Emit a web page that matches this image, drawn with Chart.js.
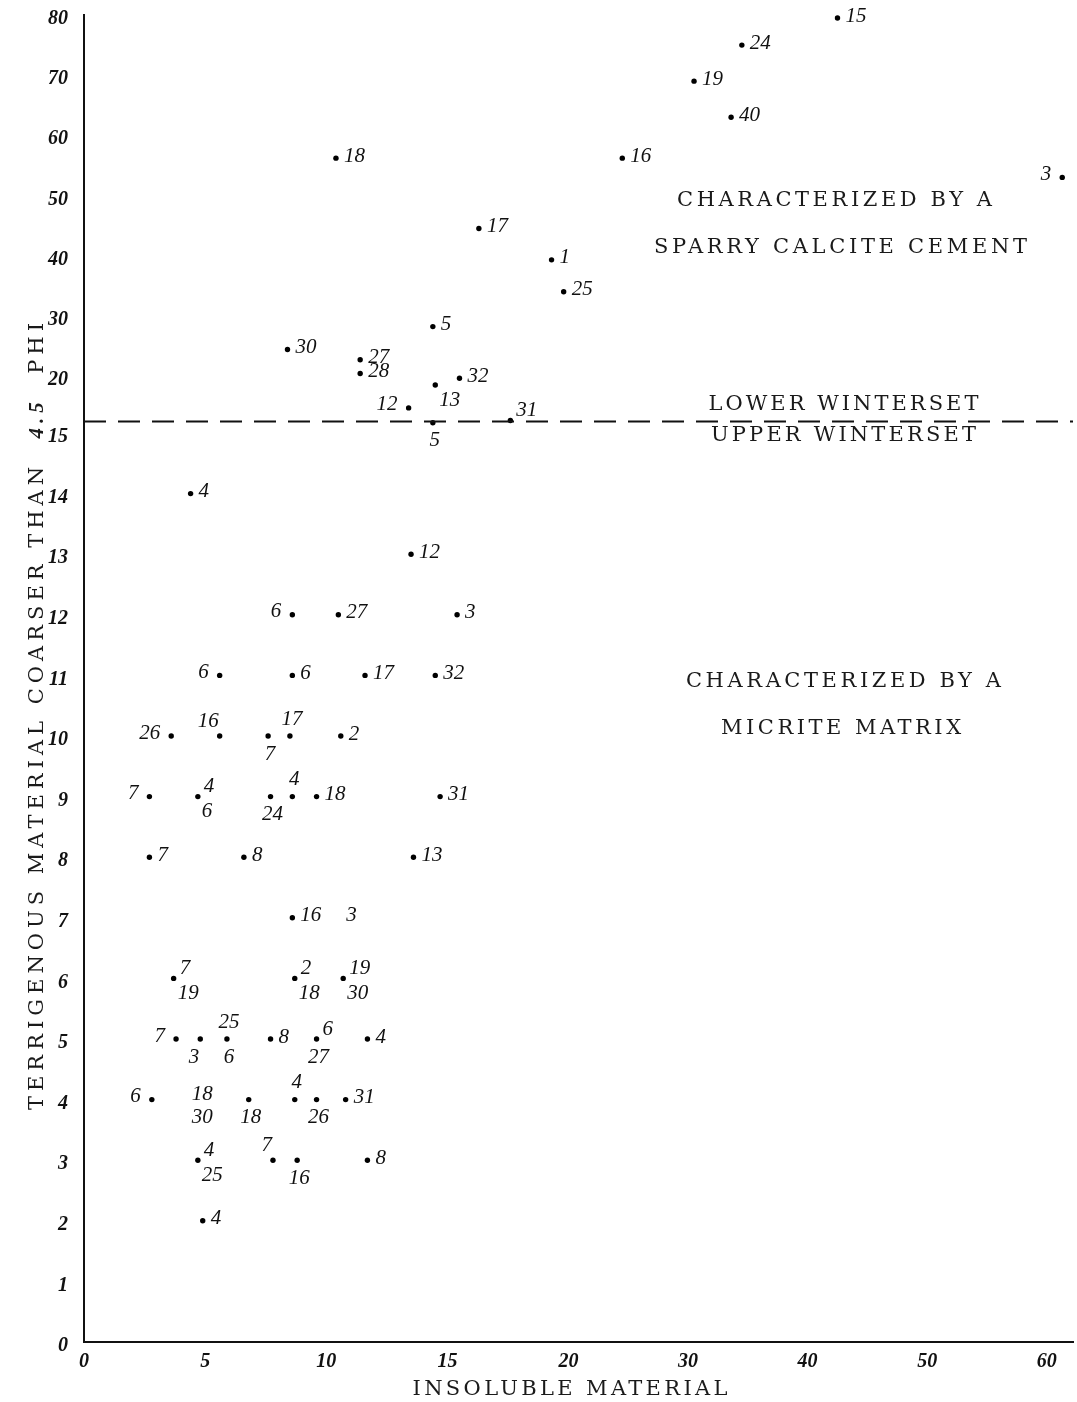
<!DOCTYPE html>
<html lang="en">
<head>
<meta charset="UTF-8">
<title>Terrigenous material vs insoluble material</title>
<script src="https://cdn.jsdelivr.net/npm/chart.js@4"></script>
<style>
  body { margin: 0; background: #fff; }
  canvas { display: block; }
</style>
</head>
<body>
<canvas id="plot" width="1077" height="1402"></canvas>
<script>
// Lower Winterset samples (above the dashed boundary)
const upperX = [42.5, 34.5, 30.5, 33.6, 24.5, 61.3, 10.4, 16.3, 19.3, 19.8, 14.4, 8.4, 11.4, 11.4, 15.5, 14.5, 13.4, 14.4, 17.6];
const upperY = [79.5, 75, 69, 63, 56.2, 53, 56.2, 44.5, 39.3, 34, 28.2, 24.4, 22.7, 20.4, 19.8, 19.2, 17.2, 15.9, 16.1];
const upperLabels = ['15', '24', '19', '40', '16', '3', '18', '17', '1', '25', '5', '30', '27', '28', '32', '13', '12', '5', '31'];

// Upper Winterset samples (below the boundary); "a/b" = two samples on one dot
const lowerX = [4.4, 8.6, 10.5, 15.4, 13.5, 5.6, 8.6, 11.6, 14.5, 3.6, 5.6, 7.6, 8.5, 10.6, 2.7, 4.7, 7.7, 8.6, 9.6, 14.7,
                2.7, 6.6, 13.6, 8.6, 3.7, 8.7, 10.7, 3.8, 4.8, 5.9, 7.7, 9.6, 11.7, 2.8, 6.8, 8.7, 9.6, 10.8, 4.7, 7.8,
                8.8, 11.7, 4.9];
const lowerY = [14, 12, 12, 12, 13, 11, 11, 11, 11, 10, 10, 10, 10, 10, 9, 9, 9, 9, 9, 9,
                8, 8, 8, 7, 6, 6, 6, 5, 5, 5, 5, 5, 5, 4, 4, 4, 4, 4, 3, 3,
                3, 3, 2];
const lowerLabels = ['4', '6', '27', '3', '12', '6', '6', '17', '32', '26', '16', '7', '17', '2', '7', '4/6', '24', '4', '18', '31',
                     '7', '8', '13', '16', '7/19', '2/18', '19/30', '7', '3', '25/6', '8', '6/27', '4', '6', '18', '4', '26', '31', '4/25', '7',
                     '16', '8', '4'];

// sample numbers printed without a visible dot
const looseX = [10.5, 4.8];
const looseY = [7, 3.9];
const looseLabels = ['3', '18/30'];

const xTicks = [0, 5, 10, 15, 20, 30, 40, 50, 60];
const yTicks = [0, 1, 2, 3, 4, 5, 6, 7, 8, 9, 10, 11, 12, 13, 14, 15, 20, 30, 40, 50, 60, 70, 80];
const boundaryY = 16;

// where each number sits around its dot (r, l, ur, dr, u, d, ul, dl)
const upperPos = ['r', 'r', 'r', 'r', 'r', 'l', 'r', 'r', 'r', 'r', 'r', 'r', 'r', 'r', 'r', 'dr', 'l', 'd', 'ur'];
const lowerPos = ['r', 'l', 'r', 'r', 'r', 'l', 'r', 'r', 'r', 'l', 'ul', 'd', 'u', 'r', 'l', 'ur/dr', 'd', 'u', 'r', 'r',
                  'r', 'r', 'r', 'r', 'ur/dr', 'ur/dr', 'ur/dr', 'l', 'dl', 'u/d', 'r', 'ur/d', 'r', 'l', 'd', 'u', 'd', 'r', 'ur/dr', 'ul',
                  'd', 'r', 'r'];
const loosePos = ['r', 'u2/d2'];

// broken axes: [value, fraction of axis length]
const BREAKS = {
  x: [[0, 0], [20, 0.4899], [62.2, 1]],
  y: [[0, 0], [15, 0.685], [20, 0.728], [80, 1]]
};

class BrokenScale extends Chart.LinearScale {
  getPixelForValue(value) {
    const b = BREAKS[this.axis];
    let i = 1;
    while (i < b.length - 1 && value > b[i][0]) i++;
    const [v0, f0] = b[i - 1], [v1, f1] = b[i];
    return this.getPixelForDecimal(f0 + (value - v0) / (v1 - v0) * (f1 - f0));
  }
  getValueForPixel(pixel) {
    const b = BREAKS[this.axis];
    const d = this.getDecimalForPixel(pixel);
    let i = 1;
    while (i < b.length - 1 && d > b[i][1]) i++;
    const [v0, f0] = b[i - 1], [v1, f1] = b[i];
    return v0 + (d - f0) / (f1 - f0) * (v1 - v0);
  }
}
BrokenScale.id = 'broken';
BrokenScale.defaults = Chart.LinearScale.defaults;
Chart.register(BrokenScale);

const OFFSETS = {
  r:  ['left', 8, -2],   l:  ['right', -11, -3],
  ur: ['left', 6, -10],  dr: ['left', 4, 15],
  u:  ['center', 2, -17], d: ['center', 2, 18],
  ul: ['right', -1, -15], dl: ['right', -1, 18],
  u2: ['center', 2, -11], d2: ['center', 2, 12]
};

const pointLabels = {
  id: 'pointLabels',
  afterDatasetsDraw(chart) {
    const ctx = chart.ctx;
    ctx.save();
    ctx.font = 'italic 21px "Liberation Serif"';
    ctx.fillStyle = '#111';
    ctx.textBaseline = 'middle';
    chart.data.datasets.forEach((ds, di) => {
      if (!ds.sampleLabels) return;
      chart.getDatasetMeta(di).data.forEach((pt, i) => {
        const texts = ds.sampleLabels[i].split('/');
        const pos = ds.labelPos[i].split('/');
        texts.forEach((t, k) => {
          const [align, dx, dy] = OFFSETS[pos[k]];
          ctx.textAlign = align;
          ctx.fillText(t, pt.x + dx, pt.y + dy);
        });
      });
    });
    ctx.restore();
  }
};

// region notes, placed in data coordinates
const notes = [
  { text: 'CHARACTERIZED BY A', x: 42.25, y: 49.1, w: 315 },
  { text: 'SPARRY CALCITE CEMENT', x: 42.75, y: 41.3, w: 373 },
  { text: 'LOWER WINTERSET', x: 43, y: 17.5, w: 270 },
  { text: 'UPPER WINTERSET', x: 43, y: 14.95, w: 265 },
  { text: 'CHARACTERIZED BY A', x: 43, y: 10.9, w: 315 },
  { text: 'MICRITE MATRIX', x: 42.8, y: 10.13, w: 240 }
];

function spaced(ctx, text, cx, cy, width) {
  ctx.letterSpacing = '0px';
  const nat = ctx.measureText(text).width;
  const sp = Math.max(0, (width - nat) / (text.length - 1));
  ctx.letterSpacing = sp + 'px';
  ctx.textAlign = 'left';
  ctx.fillText(text, cx - width / 2, cy);
  ctx.letterSpacing = '0px';
}

const annotations = {
  id: 'annotations',
  afterDraw(chart) {
    const ctx = chart.ctx;
    const xs = chart.scales.x, ys = chart.scales.y;
    ctx.save();
    ctx.fillStyle = '#1a1a1a';
    ctx.textBaseline = 'middle';
    ctx.font = '21px "DejaVu Serif"';
    notes.forEach(n => spaced(ctx, n.text, xs.getPixelForValue(n.x), ys.getPixelForValue(n.y), n.w));

    // x title
    spaced(ctx, 'INSOLUBLE MATERIAL', 570, 1390, 315);

    // y title, "4.5" in italics
    const parts = [
      ['TERRIGENOUS MATERIAL COARSER THAN  ', '21px "DejaVu Serif"'],
      ['4.5', 'italic bold 21px "Liberation Serif"'],
      ['  PHI', '21px "DejaVu Serif"']
    ];
    ctx.letterSpacing = '0px';
    let nat = 0, n = 0;
    parts.forEach(([t, f]) => { ctx.font = f; nat += ctx.measureText(t).width; n += t.length; });
    const target = 792;
    const sp = Math.max(0, (target - nat) / n);
    ctx.translate(38, 714);
    ctx.rotate(-Math.PI / 2);
    let x = -target / 2;
    ctx.textAlign = 'left';
    parts.forEach(([t, f]) => {
      ctx.font = f;
      ctx.letterSpacing = sp + 'px';
      ctx.fillText(t, x, 0);
      x += ctx.measureText(t).width;
    });
    ctx.restore();
  }
};

const toPoints = (xs, ys) => xs.map((x, i) => ({ x, y: ys[i] }));
const tickFont = { family: 'Liberation Serif', size: 20, style: 'italic', weight: 'bold' };

new Chart(document.getElementById('plot'), {
  type: 'scatter',
  data: {
    datasets: [
      {
        label: 'Boundary',
        data: [{ x: 0, y: boundaryY }, { x: 62.2, y: boundaryY }],
        showLine: true,
        borderColor: '#111',
        borderWidth: 2,
        borderDash: [22, 12],
        pointRadius: 0
      },
      {
        label: 'Lower Winterset',
        data: toPoints(upperX, upperY),
        sampleLabels: upperLabels,
        labelPos: upperPos,
        backgroundColor: '#000',
        borderWidth: 0,
        pointRadius: 2.7
      },
      {
        label: 'Upper Winterset',
        data: toPoints(lowerX, lowerY),
        sampleLabels: lowerLabels,
        labelPos: lowerPos,
        backgroundColor: '#000',
        borderWidth: 0,
        pointRadius: 2.7
      },
      {
        label: 'Unmarked',
        data: toPoints(looseX, looseY),
        sampleLabels: looseLabels,
        labelPos: loosePos,
        pointRadius: 0
      }
    ]
  },
  options: {
    responsive: false,
    animation: false,
    events: [],
    layout: { padding: { top: 15, right: 1, left: 0, bottom: 0 } },
    plugins: { legend: { display: false }, tooltip: { enabled: false } },
    scales: {
      x: {
        type: 'broken',
        min: 0,
        max: 62.2,
        grid: { display: false, drawTicks: false },
        border: { display: true, color: '#111', width: 2 },
        afterBuildTicks: s => { s.ticks = xTicks.map(v => ({ value: v })); },
        afterFit: s => { s.height = 60; s.paddingLeft = 0; s.paddingRight = 0; },
        ticks: { color: '#111', font: tickFont, padding: 8, maxRotation: 0, autoSkip: false, callback: v => v }
      },
      y: {
        type: 'broken',
        min: 0,
        max: 80,
        grid: { display: false, drawTicks: false },
        border: { display: true, color: '#111', width: 2 },
        afterBuildTicks: s => { s.ticks = yTicks.map(v => ({ value: v })); },
        afterFit: s => { s.width = 84; s.paddingTop = 0; s.paddingBottom = 0; },
        ticks: { color: '#111', font: tickFont, padding: 16, labelOffset: 4, autoSkip: false, callback: v => v }
      }
    }
  },
  plugins: [pointLabels, annotations]
});
</script>
</body>
</html>
